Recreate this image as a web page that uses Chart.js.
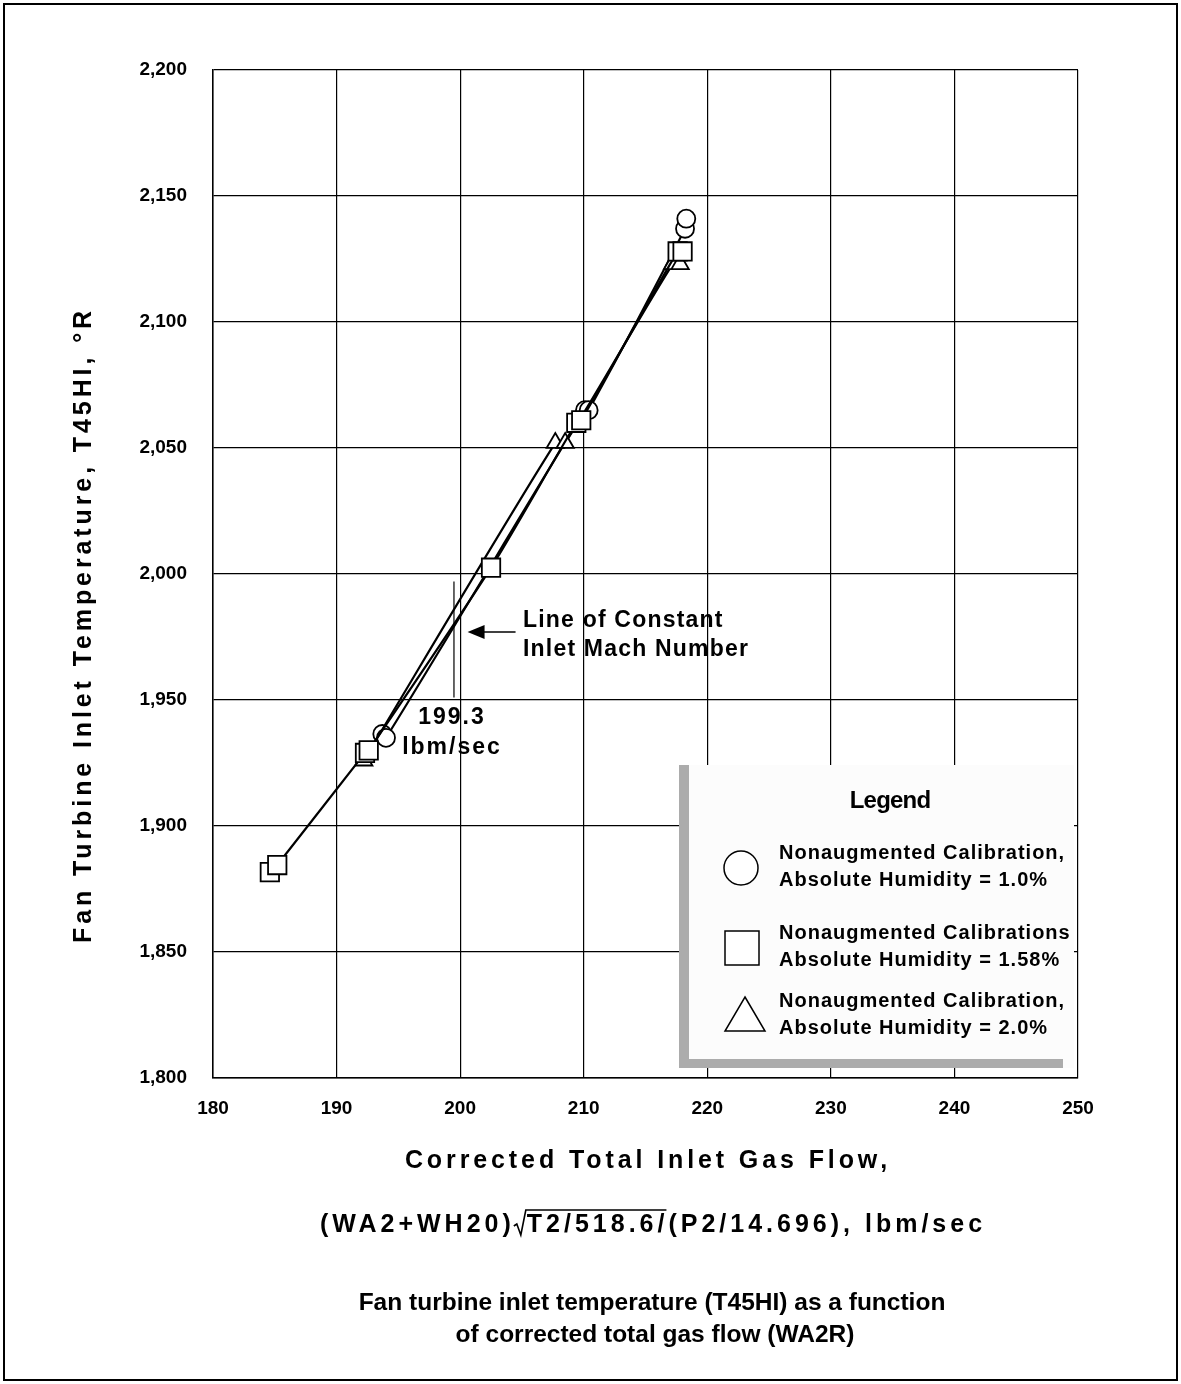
<!DOCTYPE html>
<html>
<head>
<meta charset="utf-8">
<script src="https://cdn.jsdelivr.net/npm/chart.js@4.4.1/dist/chart.umd.min.js"></script>
<style>
  html, body { margin: 0; padding: 0; background: #ffffff; }
  #wrap { width: 1181px; height: 1384px; }
</style>
</head>
<body>
<div id="wrap"><canvas id="chart" width="1181" height="1384"></canvas></div>
<script>
// ============================================
// DATA
// ============================================
const xTicks = [180, 190, 200, 210, 220, 230, 240, 250];
const yTicks = [1800, 1850, 1900, 1950, 2000, 2050, 2100, 2150, 2200];

// Nonaugmented calibration, absolute humidity = 1.0%
const circleX = [193.7, 194.0, 210.1, 210.4, 218.2, 218.3];
const circleY = [1936.5, 1935, 2065, 2065, 2137, 2141];

// Nonaugmented calibrations, absolute humidity = 1.58%
const squareX = [184.6, 185.2, 192.3, 192.6, 202.5, 209.4, 209.8, 217.6, 218.0];
const squareY = [1881.7, 1884.5, 1929, 1930, 2002.5, 2060, 2061, 2128, 2128];

// Nonaugmented calibration, absolute humidity = 2.0%
const triangleX = [192.2, 207.7, 208.5, 217.2, 217.8];
const triangleY = [1926, 2052, 2052, 2123, 2123];

// Line of constant inlet Mach number (marker drawn where the reference puts it)
const machLabel = "199.3";
const machLineX = 199.5;
const machLineY = [1951, 1997];

const legendLabels = [
    ["Nonaugmented Calibration,", "Absolute Humidity = 1.0%"],
    ["Nonaugmented Calibrations", "Absolute Humidity = 1.58%"],
    ["Nonaugmented Calibration,", "Absolute Humidity = 2.0%"]
];

const FONT = "'Liberation Sans', Arial, sans-serif";

function toPoints(xs, ys) {
    return xs.map((x, i) => ({ x: x, y: ys[i] }));
}

function series(xs, ys, style, radius) {
    return {
        data: toPoints(xs, ys),
        showLine: true,
        tension: 0.25,
        borderColor: "#000",
        borderWidth: 2.2,
        pointStyle: style,
        pointRadius: radius,
        pointBackgroundColor: "#fff",
        pointBorderColor: "#000",
        pointBorderWidth: 1.8
    };
}

// ============================================
// EXTRA DRAWING: titles, annotation, legend, frame
// ============================================
function spacedText(ctx, text, x, y, spacing) {
    ctx.letterSpacing = spacing + "px";
    ctx.fillText(text, x, y);
    ctx.letterSpacing = "0px";
}

const decorPlugin = {
    id: "decor",
    beforeDraw(chart) {
        const ctx = chart.ctx;
        ctx.save();
        ctx.fillStyle = "#ffffff";
        ctx.fillRect(0, 0, chart.width, chart.height);
        ctx.restore();
    },
    afterDraw(chart) {
        const ctx = chart.ctx;
        const xs = chart.scales.x;
        const ys = chart.scales.y;
        ctx.save();
        ctx.fillStyle = "#000";
        ctx.strokeStyle = "#000";

        // outer frame
        ctx.lineWidth = 2;
        ctx.strokeRect(4, 4, 1173, 1376);

        // y axis title
        ctx.save();
        ctx.translate(84, 625);
        ctx.rotate(-Math.PI / 2);
        ctx.font = "bold 25px " + FONT;
        ctx.textAlign = "center";
        ctx.textBaseline = "middle";
        spacedText(ctx, "Fan Turbine Inlet Temperature, T45HI, \u00B0R", 0, 0, 3.9);
        ctx.restore();

        // x axis title
        ctx.font = "bold 25px " + FONT;
        ctx.textAlign = "center";
        ctx.textBaseline = "middle";
        spacedText(ctx, "Corrected Total Inlet Gas Flow,", 648, 1161, 3.9);

        // formula line with square root
        ctx.font = "bold 25px " + FONT;
        ctx.textAlign = "left";
        ctx.letterSpacing = "4px";
        const part1 = "(WA2+WH20)";
        const part2 = "T2/518.6/";
        const part3 = "(P2/14.696), lbm/sec";
        const w1 = ctx.measureText(part1).width;
        const w2 = ctx.measureText(part2).width;
        const w3 = ctx.measureText(part3).width;
        const total = w1 + 14 + w2 + w3;
        let fx = 654 - total / 2;
        const fy = 1225;
        ctx.fillText(part1, fx, fy);
        fx += w1 - 2;
        ctx.letterSpacing = "0px";
        ctx.lineWidth = 1.6;
        ctx.beginPath();
        ctx.moveTo(fx + 1, fy + 1);
        ctx.lineTo(fx + 4, fy - 1);
        ctx.lineTo(fx + 8, fy + 10);
        ctx.lineTo(fx + 13, fy - 15);
        ctx.lineTo(fx + 12 + w2, fy - 15);
        ctx.stroke();
        fx += 14;
        ctx.letterSpacing = "4px";
        ctx.fillText(part2, fx, fy);
        fx += w2;
        ctx.fillText(part3, fx, fy);
        ctx.letterSpacing = "0px";

        // caption
        ctx.font = "bold 24.5px " + FONT;
        ctx.textAlign = "center";
        ctx.fillText("Fan turbine inlet temperature (T45HI) as a function", 652, 1303);
        ctx.fillText("of corrected total gas flow (WA2R)", 655, 1335);

        // constant Mach line annotation
        const mx = xs.getPixelForValue(machLineX);
        ctx.lineWidth = 1.2;
        ctx.beginPath();
        ctx.moveTo(mx, ys.getPixelForValue(machLineY[1]));
        ctx.lineTo(mx, ys.getPixelForValue(machLineY[0]));
        ctx.stroke();

        const ay = ys.getPixelForValue(1977);
        const ax = xs.getPixelForValue(200.6);
        ctx.lineWidth = 1.5;
        ctx.beginPath();
        ctx.moveTo(ax + 10, ay);
        ctx.lineTo(ax + 48, ay);
        ctx.stroke();
        ctx.beginPath();
        ctx.moveTo(ax, ay);
        ctx.lineTo(ax + 17, ay - 7);
        ctx.lineTo(ax + 17, ay + 7);
        ctx.closePath();
        ctx.fill();

        ctx.font = "bold 23px " + FONT;
        ctx.textAlign = "left";
        spacedText(ctx, "Line of Constant", 523, 621, 1.2);
        spacedText(ctx, "Inlet Mach Number", 523, 650, 1.2);
        ctx.textAlign = "center";
        spacedText(ctx, machLabel, 452, 718, 2);
        spacedText(ctx, "lbm/sec", 452, 748, 2);

        // legend box with shadow
        const lx = 679, ly = 765, lw = 395, lh = 303;
        ctx.fillStyle = "#fcfcfc";
        ctx.fillRect(lx, ly, lw, lh);
        ctx.fillStyle = "#acacac";
        ctx.fillRect(lx, ly, 10, lh);
        ctx.fillRect(lx, ly + lh - 9, 384, 9);

        ctx.fillStyle = "#000";
        ctx.font = "bold 24px " + FONT;
        ctx.textAlign = "center";
        spacedText(ctx, "Legend", 890, 801, -0.8);

        ctx.font = "bold 20px " + FONT;
        ctx.textAlign = "left";
        const rowsY = [866, 946, 1014];
        legendLabels.forEach((lines, i) => {
            spacedText(ctx, lines[0], 779, rowsY[i] - 13, 1.0);
            spacedText(ctx, lines[1], 779, rowsY[i] + 14, 1.0);
        });

        ctx.lineWidth = 1.5;
        ctx.fillStyle = "#fff";
        // circle
        ctx.beginPath();
        ctx.arc(741, rowsY[0] + 2, 17, 0, Math.PI * 2);
        ctx.fill();
        ctx.stroke();
        // square
        ctx.fillRect(725, rowsY[1] - 15, 34, 34);
        ctx.strokeRect(725, rowsY[1] - 15, 34, 34);
        // triangle
        ctx.beginPath();
        ctx.moveTo(745, rowsY[2] - 17);
        ctx.lineTo(765, rowsY[2] + 17);
        ctx.lineTo(725, rowsY[2] + 17);
        ctx.closePath();
        ctx.fill();
        ctx.stroke();

        ctx.restore();
    }
};

// ============================================
// CHART
// ============================================
const tickFont = { family: FONT, size: 19, weight: "bold" };

new Chart(document.getElementById("chart").getContext("2d"), {
    type: "scatter",
    data: {
        datasets: [
            series(squareX, squareY, "rect", 13),
            series(triangleX, triangleY, "triangle", 10),
            series(circleX, circleY, "circle", 9)
        ]
    },
    options: {
        responsive: false,
        animation: false,
        devicePixelRatio: 1,
        layout: { padding: { top: 70, right: 103, left: 0, bottom: 0 } },
        plugins: {
            legend: { display: false },
            tooltip: { enabled: false }
        },
        scales: {
            x: {
                type: "linear",
                min: 180,
                max: 250,
                afterBuildTicks: scale => { scale.ticks = xTicks.map(v => ({ value: v })); },
                afterFit: scale => { scale.height = 306; },
                ticks: { color: "#000", font: tickFont, padding: 19, maxRotation: 0 },
                grid: { color: "#000", lineWidth: 1.2, drawTicks: false },
                border: { color: "#000", width: 1.5 }
            },
            y: {
                type: "linear",
                min: 1800,
                max: 2200,
                afterBuildTicks: scale => { scale.ticks = yTicks.map(v => ({ value: v })); },
                afterFit: scale => { scale.width = 213; },
                ticks: {
                    color: "#000",
                    font: tickFont,
                    padding: 26,
                    callback: v => v.toLocaleString("en-US")
                },
                grid: { color: "#000", lineWidth: 1.2, drawTicks: false },
                border: { color: "#000", width: 1.5 }
            }
        }
    },
    plugins: [decorPlugin]
});
</script>
</body>
</html>
